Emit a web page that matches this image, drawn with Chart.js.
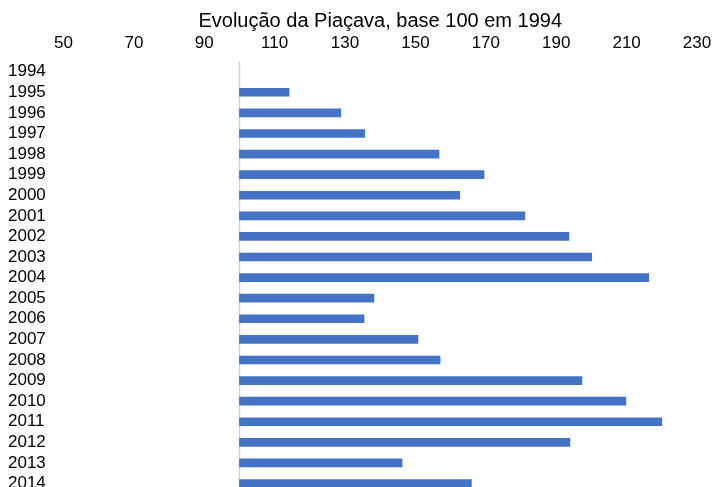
<!DOCTYPE html>
<html>
<head>
<meta charset="utf-8">
<script src="https://cdn.jsdelivr.net/npm/chart.js@4/dist/chart.umd.min.js"></script>
<style>
    html, body { margin: 0; padding: 0; background: #fff; overflow: hidden; }
    #wrap { position: relative; width: 713px; height: 504px; }
</style>
</head>
<body>
<div id="wrap"><canvas id="piacavaChart"></canvas></div>
<script>
// dados (base 100 em 1994)
const anos = ['1994', '1995', '1996', '1997', '1998', '1999', '2000', '2001', '2002', '2003', '2004',
    '2005', '2006', '2007', '2008', '2009', '2010', '2011', '2012', '2013', '2014'];
const indice = [100, 114.1, 128.8, 135.6, 156.7, 169.5, 162.6, 181.1, 193.6, 200.1, 216.3,
    138.2, 135.4, 150.7, 157.0, 197.3, 209.8, 220.0, 193.9, 146.2, 165.9];
const eixoMin = 50;
const eixoMax = 230;
const eixoPasso = 20;
const valorBase = 100;

// linha vertical no valor base
const linhaBase = {
    id: 'linhaBase',
    beforeDatasetsDraw(chart) {
        const { ctx, chartArea, scales } = chart;
        const x = Math.round(scales.x.getPixelForValue(valorBase)) + 0.5;
        ctx.save();
        ctx.strokeStyle = '#d4d4d4';
        ctx.lineWidth = 1.5;
        ctx.beginPath();
        ctx.moveTo(x, chartArea.top);
        ctx.lineTo(x, chartArea.bottom);
        ctx.stroke();
        ctx.restore();
    }
};

const fonte = { family: '"Liberation Sans", Arial, sans-serif', size: 17 };

const ctx = document.getElementById('piacavaChart').getContext('2d');
const piacavaChart = new Chart(ctx, {
    type: 'bar',
    data: {
        labels: anos,
        datasets: [{
            data: indice,
            base: valorBase,
            backgroundColor: c => (c.raw === valorBase ? 'rgba(0,0,0,0)' : '#4472C4'),
            borderWidth: 0,
            barThickness: 8,
        }],
    },
    options: {
        indexAxis: 'y',
        responsive: true,
        maintainAspectRatio: false,
        animation: false,
        layout: { padding: { top: 6, left: 8, right: 16, bottom: 0 } },
        plugins: {
            legend: { display: false },
            tooltip: { enabled: false },
        },
        scales: {
            x: {
                position: 'top',
                min: eixoMin,
                max: eixoMax,
                grid: { display: false, drawTicks: false },
                border: { display: false },
                ticks: { stepSize: eixoPasso, color: '#000', font: fonte, padding: 8, maxRotation: 0 },
                title: {
                    display: true,
                    text: 'Evolução da Piaçava, base 100 em 1994',
                    color: '#000',
                    font: { family: fonte.family, size: 20 },
                    padding: { top: 3, bottom: 0 },
                },
                afterFit(scale) {
                    scale.height = 55.4;
                    scale.paddingLeft = 0;
                    scale.paddingRight = 0;
                },
            },
            y: {
                grid: { display: false, drawTicks: false },
                border: { display: false },
                ticks: { color: '#000', font: fonte, crossAlign: 'far', padding: 0, autoSkip: false },
                afterFit(scale) { scale.width = 55.5; },
            },
        },
    },
    plugins: [linhaBase],
});
</script>
</body>
</html>
